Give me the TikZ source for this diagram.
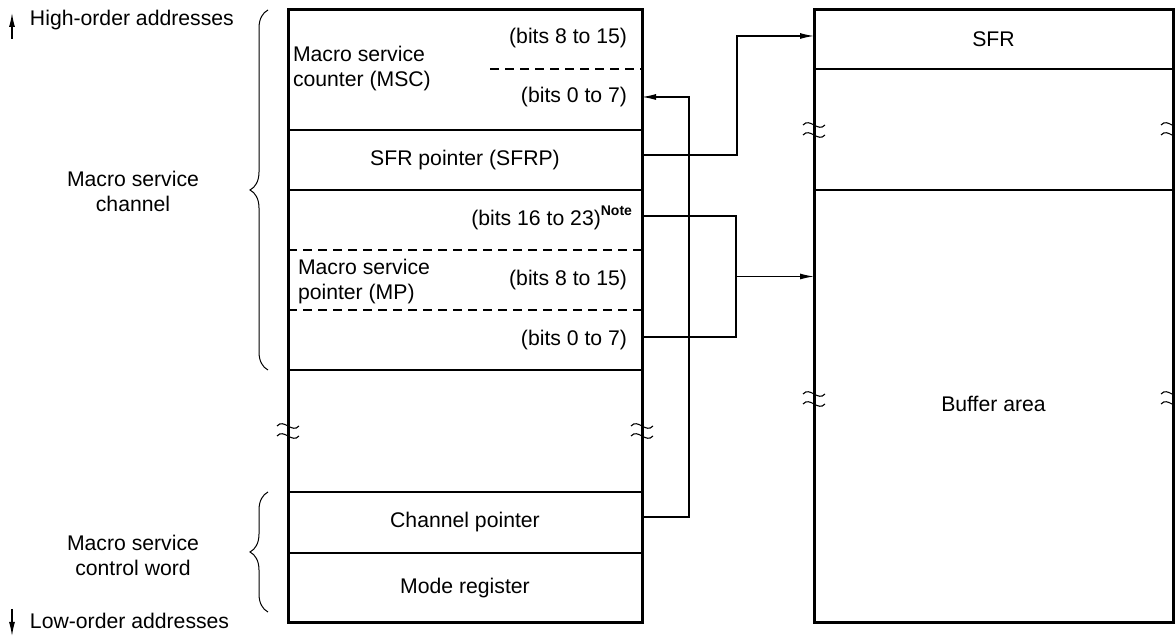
\documentclass[tikz,border=0pt]{standalone}
\usepackage{fontspec}
\setmainfont{Liberation Sans}
\usetikzlibrary{arrows.meta,decorations.pathreplacing,calc}
\newcommand\brkmark[2]{%
  \draw[line width=0.55pt] (#1-11,#2-5) .. controls (#1-4,#2-13) and (#1+4,#2+3) .. (#1+11,#2-5);
  \draw[line width=0.55pt] (#1-11,#2+5) .. controls (#1-4,#2-3) and (#1+4,#2+13) .. (#1+11,#2+5);
}
\begin{document}
\begin{tikzpicture}[x=0.5pt,y=-0.5pt,
  every node/.style={font=\fontsize{10.6}{12.5}\selectfont, inner sep=0pt, outer sep=0pt},
  rowL/.style={minimum width=177pt, draw=none, rectangle},
  rowR/.style={minimum width=179.5pt, draw=none, rectangle},
  thickline/.style={line width=1.5pt},
  thinline/.style={line width=0.6pt},
  dashline/.style={line width=0.6pt, dash pattern=on 4.5pt off 3pt},
  conn/.style={line width=0.6pt},
  arr/.style={conn, -{Latex[length=7pt,width=3pt]}},
  brc/.style={line width=0.5pt, decorate, decoration={brace, amplitude=9pt}}
]
\useasboundingbox (0,0) rectangle (1175,641);

% ---- left box rows ----
\node[rowL, minimum height=29.5pt] (mschi) at (465,39.5) {};
\node[rowL, minimum height=30.5pt] (msclo) at (465,99.5) {};
\node[rowL, minimum height=30pt] (sfrp) at (465,160) {SFR pointer (SFRP)};
\node[rowL, minimum height=30pt] (mp2) at (465,220) {};
\node[rowL, minimum height=30pt] (mp1) at (465,280) {};
\node[rowL, minimum height=30pt] (mp0) at (465,340) {};
\node[rowL, minimum height=61pt] (gap) at (465,431) {};
\node[rowL, minimum height=30.5pt] (cp) at (465,522.5) {Channel pointer};
\node[rowL, minimum height=35pt] (mode) at (465,588) {Mode register};

% ---- right box rows ----
\node[rowR, minimum height=29.5pt] (sfr) at (993.5,39.5) {SFR};
\node[rowR, minimum height=60.5pt] (mid) at (993.5,129.5) {};
\node[rowR, minimum height=216.5pt] (buf) at (993.5,406.5) {\raisebox{3pt}{Buffer area}};

% ---- texts inside left box ----
\node[anchor=west, align=left] (msct) at (293,69) {Macro service\\counter (MSC)};
\node[anchor=east] (b815a) at (627,38) {(bits 8 to 15)};
\node[anchor=east] (b07a) at (627,97) {(bits 0 to 7)};
\node[anchor=east] (b1623) at (632,218) {(bits 16 to 23)\raisebox{0.9ex}{\fontsize{7}{8}\selectfont\bfseries Note}};
\node[anchor=west, align=left] (mpt) at (298,282) {Macro service\\pointer (MP)};
\node[anchor=east] (b815b) at (627,280) {(bits 8 to 15)};
\node[anchor=east] (b07b) at (627,340) {(bits 0 to 7)};

% ---- separators ----
\draw[dashline] (490,69) -- (mschi.south east);
\draw[thinline] (msclo.south west) -- (msclo.south east);
\draw[thinline] (sfrp.south west) -- (sfrp.south east);
\draw[dashline] (mp2.south west) -- (mp2.south east);
\draw[dashline] (mp1.south west) -- (mp1.south east);
\draw[thinline] (mp0.south west) -- (mp0.south east);
\draw[thinline] (cp.north west) -- (cp.north east);
\draw[thinline] (mode.north west) -- (mode.north east);
\draw[thinline] (sfr.south west) -- (sfr.south east);
\draw[thinline] (mid.south west) -- (mid.south east);

% ---- outlines ----
\draw[thickline] (mschi.north west) rectangle (mode.south east);
\draw[thickline] (sfr.north west) rectangle (buf.south east);

% ---- break marks ----
\brkmark{288}{431}
\brkmark{642}{431}
\brkmark{814}{130}
\brkmark{1172}{130}
\brkmark{814}{399}
\brkmark{1172}{399}

% ---- connectors ----
\draw[arr] ([yshift=2.75pt]cp.east) -- ++(47,0) |- ([yshift=1.25pt]msclo.east);
\draw[arr] ([yshift=2.5pt]sfrp.east) -- ++(95,0) |- ([yshift=1.75pt]sfr.west);
\coordinate (mp0e) at ([yshift=1.5pt]mp0.east);
\draw[conn] ([yshift=2pt]mp2.east) -- ++(94,0) coordinate (mpa) |- (mp0e);
\coordinate (mpj) at ($(mpa)!0.5!(mpa |- mp0e)$);
\draw[arr] (mpj) -- (mpj -| buf.west);

% ---- braces and side labels ----
\draw[brc] (268,370) -- (268,10);
\draw[brc] (268,612) -- (268,492);
\node[align=center] (mscl) at (133,191) {Macro service\\channel};
\node[align=center] (mswl) at (133,555) {Macro service\\control word};

\node[anchor=west] (hi) at (30,20) {High-order addresses};
\node[anchor=west] (lo) at (30,621) {Low-order addresses};
\coordinate (hia) at (12,39);
\coordinate (hib) at (12,13);
\coordinate (loa) at (12,609);
\coordinate (lob) at (12,636);
\draw[arr] (hia) -- (hib);
\draw[arr] (loa) -- (lob);
\end{tikzpicture}
\end{document}
